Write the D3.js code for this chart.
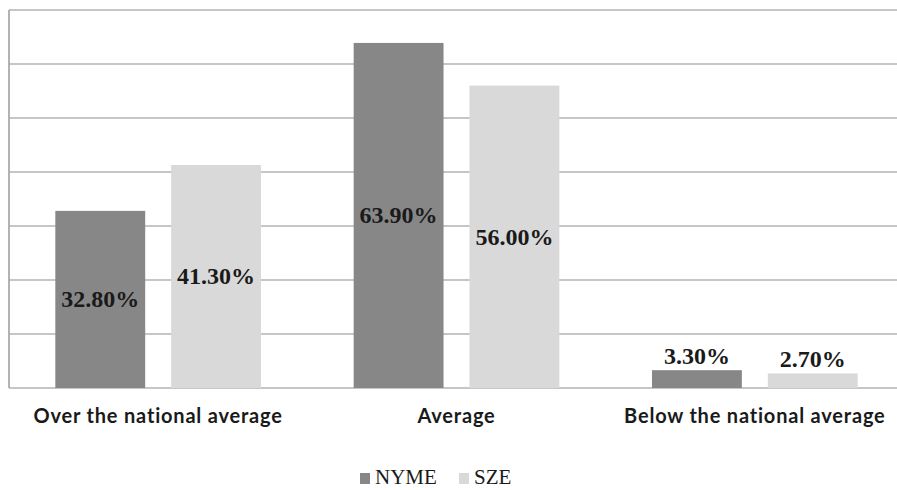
<!DOCTYPE html>
<html>
<head>
<meta charset="utf-8">
<script src="https://cdn.jsdelivr.net/npm/d3@7"></script>
<style>
  html, body { margin: 0; padding: 0; background: #fff; }
  svg { display: block; }
</style>
</head>
<body>
<svg id="chart" width="897" height="490"></svg>
<script>
const categories = ["Over the national average", "Average", "Below the national average"];
const seriesNames = ["NYME", "SZE"];
const nymeValues = [32.8, 63.9, 3.3];
const szeValues = [41.3, 56.0, 2.7];
const gridTicks = [0, 10, 20, 30, 40, 50, 60, 70];
const seriesColors = ["#878787", "#d9d9d9"];

const svg = d3.select("#chart");
// plot area runs a little past the right edge of the window
const plot = { left: 9, right: 904, top: 10, bottom: 388 };

const x0 = d3.scaleBand().domain(categories).range([plot.left, plot.right]).paddingInner(0).paddingOuter(0);
const x1 = d3.scaleBand().domain(seriesNames).range([0, x0.bandwidth()]).paddingInner(0.224).paddingOuter(0.4);
const y = d3.scaleLinear().domain([0, 70]).range([plot.bottom, plot.top]);

// horizontal gridlines
svg.append("g")
  .selectAll("line")
  .data(gridTicks)
  .join("line")
  .attr("x1", plot.left).attr("x2", plot.right)
  .attr("y1", d => y(d)).attr("y2", d => y(d))
  .attr("stroke", "#b3b3b3").attr("stroke-width", 1.7);

// left vertical axis line
svg.append("line")
  .attr("x1", plot.left).attr("x2", plot.left)
  .attr("y1", y(70)).attr("y2", y(0))
  .attr("stroke", "#a6a6a6").attr("stroke-width", 1.7);

const rows = categories.map((c, i) => ({
  cat: c,
  vals: [
    { s: "NYME", v: nymeValues[i], c: seriesColors[0] },
    { s: "SZE", v: szeValues[i], c: seriesColors[1] }
  ]
}));

const groups = svg.append("g").selectAll("g")
  .data(rows).join("g")
  .attr("transform", d => `translate(${x0(d.cat)},0)`);

groups.selectAll("rect")
  .data(d => d.vals).join("rect")
  .attr("x", d => x1(d.s))
  .attr("width", x1.bandwidth())
  .attr("y", d => y(d.v))
  .attr("height", d => y(0) - y(d.v))
  .attr("fill", d => d.c);

// value labels: centered inside tall bars, above short ones
groups.selectAll("text")
  .data(d => d.vals).join("text")
  .attr("x", d => x1(d.s) + x1.bandwidth() / 2)
  .attr("y", d => {
    const h = y(0) - y(d.v);
    return h > 40 ? y(d.v) + h / 2 + 8 : y(d.v) - 6;
  })
  .attr("text-anchor", "middle")
  .attr("font-family", "'Liberation Serif', 'Times New Roman', serif")
  .attr("font-weight", "bold")
  .attr("font-size", 24)
  .attr("fill", "#1a1a1a")
  .text(d => d.v.toFixed(2) + "%");

// category labels
svg.append("g").selectAll("text")
  .data(categories).join("text")
  .attr("x", d => x0(d) + x0.bandwidth() / 2)
  .attr("y", 423)
  .attr("text-anchor", "middle")
  .attr("font-family", "Lato, 'Open Sans', sans-serif")
  .attr("font-weight", "bold")
  .attr("font-size", 20)
  .attr("letter-spacing", 0.8)
  .attr("fill", "#1a1a1a")
  .text(d => d);

// legend
const legend = svg.append("g");
const legendItems = [
  { name: "NYME", color: seriesColors[0], x: 360 },
  { name: "SZE", color: seriesColors[1], x: 459 }
];
legend.selectAll("rect")
  .data(legendItems).join("rect")
  .attr("x", d => d.x).attr("y", 473)
  .attr("width", 10).attr("height", 11)
  .attr("fill", d => d.color);
legend.selectAll("text")
  .data(legendItems).join("text")
  .attr("x", d => d.x + 15).attr("y", 484)
  .attr("font-family", "'Liberation Serif', 'Times New Roman', serif")
  .attr("font-size", 21)
  .attr("fill", "#1a1a1a")
  .text(d => d.name);
</script>
</body>
</html>
